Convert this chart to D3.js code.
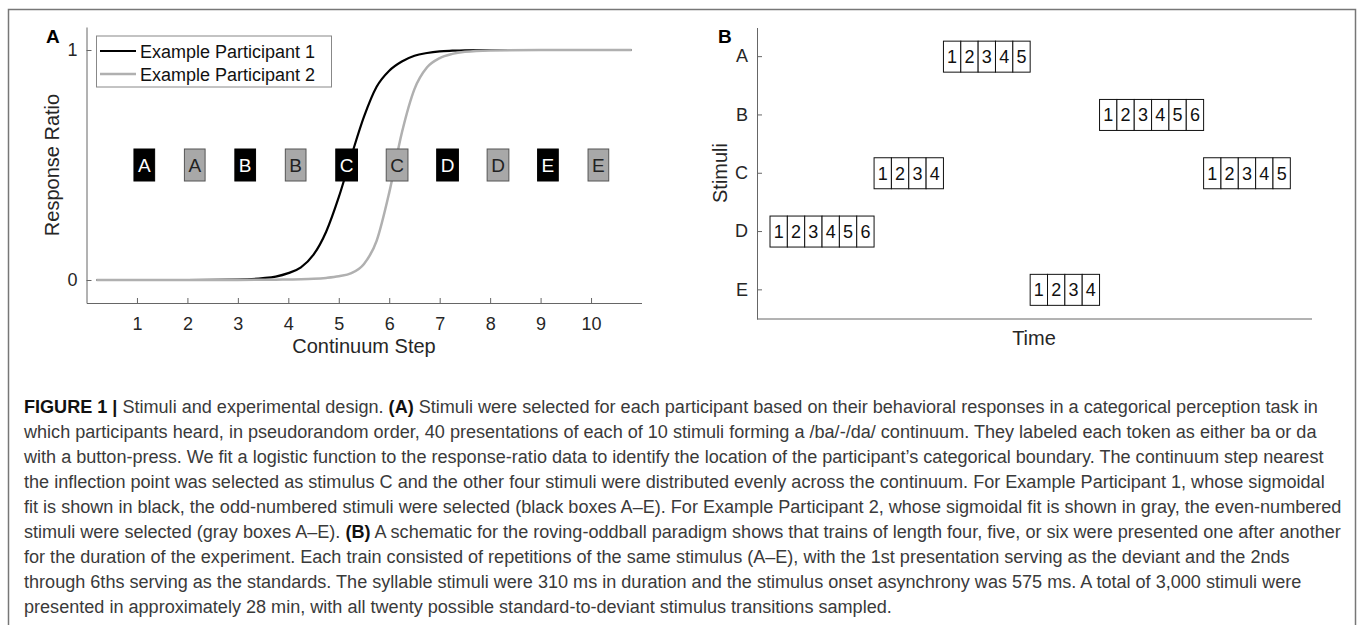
<html>
<head>
<meta charset="UTF-8">
<title>Figure 1</title>
<script src="https://d3js.org/d3.v7.min.js"></script>
<style>
  body { margin: 0; background: #fff; }
  svg { display: block; font-family: "Liberation Sans", Arial, Helvetica, sans-serif; }
  .axis path, .axis line { stroke: #666; }
  .axis text { fill: #262626; font-size: 18px; }
</style>
</head>
<body>
<script>
// ---- data ----
var steps = [1, 2, 3, 4, 5, 6, 7, 8, 9, 10];
var stimLetters = ["A", "B", "C", "D", "E"];
var p1Steps = [1, 3, 5, 7, 9];
var p2Steps = [2, 4, 6, 8, 10];
var legendNames = ["Example Participant 1", "Example Participant 2"];

// sigmoid fits
var curveX  = [0.2, 1, 2, 3, 3.5, 3.75, 4, 4.25, 4.5, 4.75, 5, 5.25, 5.5, 5.75, 6, 6.25, 6.5, 6.75, 7, 7.25, 7.5, 8, 9, 10, 10.8];
var p1Curve = [0, 0, 0, 0.002, 0.008, 0.015, 0.03, 0.055, 0.11, 0.21, 0.36, 0.54, 0.71, 0.84, 0.91, 0.95, 0.975, 0.987, 0.994, 0.997, 0.999, 1, 1, 1, 1];
var p2Curve = [0, 0, 0, 0, 0.001, 0.0015, 0.002, 0.003, 0.005, 0.009, 0.016, 0.03, 0.07, 0.17, 0.38, 0.64, 0.83, 0.925, 0.965, 0.983, 0.992, 0.998, 1, 1, 1];

// panel B trains (stimulus, train length), one after another
var trainStim = ["D", "C", "A", "E", "B", "C"];
var trainLen  = [6, 4, 5, 4, 6, 5];
var firstOnset = 0.75;

var captionLines = [
  "**FIGURE 1 |** Stimuli and experimental design. **(A)** Stimuli were selected for each participant based on their behavioral responses in a categorical perception task in",
  "which participants heard, in pseudorandom order, 40 presentations of each of 10 stimuli forming a /ba/-/da/ continuum. They labeled each token as either ba or da",
  "with a button-press. We fit a logistic function to the response-ratio data to identify the location of the participant\u2019s categorical boundary. The continuum step nearest",
  "the inflection point was selected as stimulus C and the other four stimuli were distributed evenly across the continuum. For Example Participant 1, whose sigmoidal",
  "fit is shown in black, the odd-numbered stimuli were selected (black boxes A\u2013E). For Example Participant 2, whose sigmoidal fit is shown in gray, the even-numbered",
  "stimuli were selected (gray boxes A\u2013E). **(B)** A schematic for the roving-oddball paradigm shows that trains of length four, five, or six were presented one after another",
  "for the duration of the experiment. Each train consisted of repetitions of the same stimulus (A\u2013E), with the 1st presentation serving as the deviant and the 2nds",
  "through 6ths serving as the standards. The syllable stimuli were 310 ms in duration and the stimulus onset asynchrony was 575 ms. A total of 3,000 stimuli were",
  "presented in approximately 28 min, with all twenty possible standard-to-deviant stimulus transitions sampled."
];

var width = 1357, height = 625;
var svg = d3.select("body").append("svg")
  .attr("width", width).attr("height", height);

// outer frame (open at the bottom)
svg.append("path")
  .attr("d", "M8.5,640 V9.5 H1355.5 V640")
  .attr("fill", "none").attr("stroke", "#777").attr("stroke-width", 1.5);

// ================= Panel A =================
var xA = d3.scaleLinear().domain([0, 11]).range([86.5, 641.5]);
var yA = d3.scaleLinear().domain([-0.1, 1.1]).range([303, 27]);

var gA = svg.append("g");

gA.append("g").attr("class", "axis")
  .attr("transform", "translate(0," + yA.range()[0] + ")")
  .call(d3.axisBottom(xA).tickValues(steps).tickSizeInner(-5).tickSizeOuter(0).tickPadding(14));
gA.append("g").attr("class", "axis")
  .attr("transform", "translate(" + xA.range()[0] + ",0)")
  .call(d3.axisLeft(yA).tickValues([0, 1]).tickFormat(d3.format("d"))
    .tickSizeInner(-5).tickSizeOuter(0).tickPadding(9));
gA.selectAll(".axis text").attr("font-size", 18);

var line = d3.line()
  .x(function(d) { return xA(d[0]); })
  .y(function(d) { return yA(d[1]); })
  .curve(d3.curveMonotoneX);

gA.append("path")
  .datum(d3.zip(curveX, p1Curve))
  .attr("d", line).attr("fill", "none").attr("stroke", "#000").attr("stroke-width", 2.2);
gA.append("path")
  .datum(d3.zip(curveX, p2Curve))
  .attr("d", line).attr("fill", "none").attr("stroke", "#b0b0b0").attr("stroke-width", 2.5);

// letter boxes
var boxes = [];
p1Steps.forEach(function(s, i) { boxes.push({ step: s, letter: stimLetters[i], p: 1 }); });
p2Steps.forEach(function(s, i) { boxes.push({ step: s, letter: stimLetters[i], p: 2 }); });

var bx = gA.selectAll("g.box").data(boxes).enter().append("g").attr("class", "box");
bx.append("rect")
  .attr("y", yA(0.5) - 16).attr("height", 32)
  .attr("fill", function(d) { return d.p === 1 ? "#000" : "#a8a8a8"; })
  .attr("stroke", function(d) { return d.p === 1 ? "#000" : "#555"; })
  .attr("stroke-width", 1);
bx.append("text")
  .attr("x", function(d) { return xA(d.step) + 1; })
  .attr("y", yA(0.5) + 7)
  .attr("font-size", 19)
  .attr("fill", function(d) { return d.p === 1 ? "#fff" : "#222"; })
  .text(function(d) { return d.letter; });
bx.each(function(d) {
  var w = d3.select(this).select("text").node().getComputedTextLength();
  d3.select(this).select("rect").attr("x", xA(d.step) - 3).attr("width", w + 8);
});

// legend
var leg = gA.append("g");
leg.append("rect").attr("x", 96.5).attr("y", 36).attr("width", 235).attr("height", 51)
  .attr("fill", "#fff").attr("stroke", "#888").attr("stroke-width", 1);
legendNames.forEach(function(name, i) {
  var yy = 51 + i * 23;
  leg.append("line").attr("x1", 100).attr("x2", 136).attr("y1", yy).attr("y2", yy)
    .attr("stroke", i === 0 ? "#000" : "#b0b0b0").attr("stroke-width", i === 0 ? 2.2 : 2.5);
  leg.append("text").attr("x", 140).attr("y", yy + 6.5).attr("font-size", 18).attr("fill", "#111").text(name);
});

gA.append("text").attr("transform", "translate(59,165) rotate(-90)")
  .attr("text-anchor", "middle").attr("font-size", 20).attr("fill", "#262626").text("Response Ratio");
gA.append("text").attr("x", xA(5.5)).attr("y", 353)
  .attr("text-anchor", "middle").attr("font-size", 20).attr("fill", "#262626").text("Continuum Step");
svg.append("text").attr("x", 46).attr("y", 43).attr("font-size", 19).attr("font-weight", "bold").text("A");

// ================= Panel B =================
var xB = d3.scaleLinear().domain([0, 32]).range([757, 1312]);
var yB = d3.scaleBand().domain(stimLetters).range([27.5, 319]);

var gB = svg.append("g");
gB.append("g").attr("class", "axis")
  .attr("transform", "translate(" + xB.range()[0] + ",0)")
  .call(d3.axisLeft(yB).tickSizeInner(-5).tickSizeOuter(0).tickPadding(9));
gB.selectAll(".axis text").attr("font-size", 20);
gB.append("line").attr("x1", xB.range()[0]).attr("x2", xB.range()[1])
  .attr("y1", 319).attr("y2", 319).attr("stroke", "#666");

var cells = [];
var t = firstOnset;
trainStim.forEach(function(s, i) {
  for (var k = 0; k < trainLen[i]; k++) {
    cells.push({ stim: s, t: t, n: k + 1 });
    t += 1;
  }
});

var cw = xB(1) - xB(0);
var cg = gB.selectAll("g.cell").data(cells).enter().append("g").attr("class", "cell");
cg.append("rect")
  .attr("x", function(d) { return xB(d.t); })
  .attr("y", function(d) { return yB(d.stim) + yB.bandwidth() / 2 - 15.5; })
  .attr("width", cw).attr("height", 31)
  .attr("fill", "#fff").attr("stroke", "#111").attr("stroke-width", 1);
cg.append("text")
  .attr("x", function(d) { return xB(d.t) + cw / 2; })
  .attr("y", function(d) { return yB(d.stim) + yB.bandwidth() / 2 + 6.5; })
  .attr("text-anchor", "middle").attr("font-size", 18).attr("fill", "#111")
  .text(function(d) { return d.n; });

gB.append("text").attr("transform", "translate(727,173) rotate(-90)")
  .attr("text-anchor", "middle").attr("font-size", 20).attr("fill", "#262626").text("Stimuli");
gB.append("text").attr("x", 1034).attr("y", 345)
  .attr("text-anchor", "middle").attr("font-size", 20).attr("fill", "#262626").text("Time");
svg.append("text").attr("x", 718).attr("y", 43).attr("font-size", 19).attr("font-weight", "bold").text("B");

// ================= Caption =================
var cap = svg.append("g").attr("transform", "translate(24,0) scale(0.952,1)");
captionLines.forEach(function(l, i) {
  var tx = cap.append("text").attr("x", 0).attr("y", 413 + i * 25)
    .attr("font-size", 19).attr("fill", "#3a3a3a");
  l.split("**").forEach(function(seg, j) {
    if (!seg) return;
    tx.append("tspan").attr("font-weight", j % 2 ? "bold" : null)
      .attr("fill", j % 2 ? "#111" : null).text(seg);
  });
});
</script>
</body>
</html>
